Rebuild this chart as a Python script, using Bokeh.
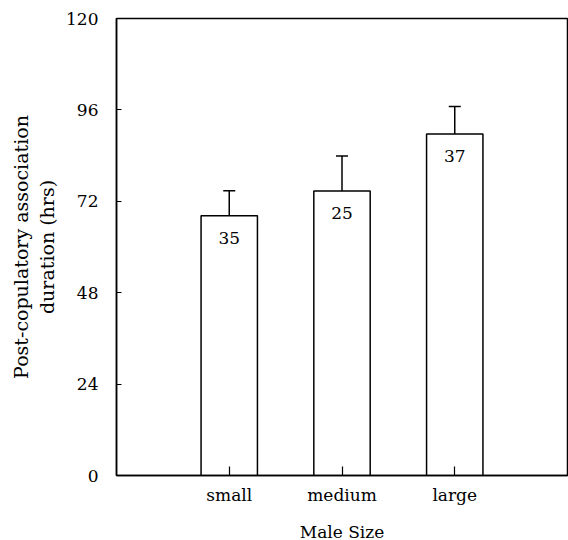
from bokeh.plotting import figure
from bokeh.models import ColumnDataSource, Whisker, TeeHead, FixedTicker
from bokeh.core.properties import value
from bokeh.embed import file_html
from bokeh.resources import INLINE

# Data
categories = ["small", "medium", "large"]
positions = [1, 2, 3]
means = [68.2, 74.7, 89.7]
errors = [6.6, 9.2, 7.2]
sample_sizes = ["35", "25", "37"]
y_ticks = [0, 24, 48, 72, 96, 120]

upper = [m + e for m, e in zip(means, errors)]

FONT = "DejaVu Serif"

src = ColumnDataSource(dict(x=positions, top=means, upper=upper, n=sample_sizes))

p = figure(frame_width=451, frame_height=457, x_range=(0, 4), y_range=(0, 120),
           output_backend="svg", toolbar_location=None, tools="",
           min_border_left=116, min_border_top=18, min_border_bottom=65,
           min_border_right=1)

p.background_fill_color = "white"
p.border_fill_color = "white"
p.outline_line_color = "black"
p.outline_line_width = 1.5
p.xgrid.visible = False
p.ygrid.visible = False

p.vbar(x="x", top="top", bottom=0, width=0.5, source=src,
       fill_color="white", line_color="black", line_width=1.5)

w = Whisker(base="x", upper="upper", lower="top", source=src,
            line_color="black", line_width=1.5,
            upper_head=TeeHead(size=12, line_color="black", line_width=1.5),
            lower_head=None)
p.add_layout(w)

p.text(x="x", y="top", text="n", source=src, text_align="center",
       text_baseline="middle", y_offset=22, text_font=value(FONT),
       text_font_size="17px", text_color="black")

# axes
p.xaxis.ticker = FixedTicker(ticks=positions)
p.xaxis.major_label_overrides = {pos: c for pos, c in zip(positions, categories)}
p.yaxis.ticker = FixedTicker(ticks=y_ticks)

for ax in (p.xaxis[0], p.yaxis[0]):
    ax.axis_line_color = "black"
    ax.axis_line_width = 1.5
    ax.major_tick_out = 0
    ax.minor_tick_out = 0
    ax.minor_tick_in = 0
    ax.major_tick_line_color = "black"
    ax.major_tick_line_width = 1.2
    ax.major_label_text_font = FONT
    ax.major_label_text_color = "black"
    ax.axis_label_text_font = FONT
    ax.axis_label_text_font_style = "normal"
    ax.axis_label_text_color = "black"

p.xaxis.major_tick_in = 9
p.yaxis.major_tick_in = 5
p.xaxis.major_label_text_font_size = "17px"
p.yaxis.major_label_text_font_size = "17px"
p.xaxis.major_label_standoff = 9
p.yaxis.major_label_standoff = 18

p.xaxis.axis_label = "Male Size"
p.xaxis.axis_label_text_font_size = "17px"
p.xaxis.axis_label_standoff = 14

p.yaxis.axis_label = "Post-copulatory association\nduration (hrs)"
p.yaxis.axis_label_text_font_size = "19px"
p.yaxis.axis_label_text_align = "center"
p.yaxis.axis_label_standoff = 5

open("out.html", "w").write(file_html(p, INLINE))
